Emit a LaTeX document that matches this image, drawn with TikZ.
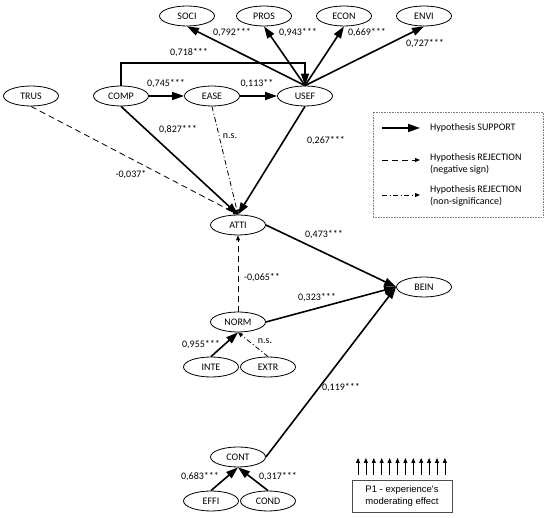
\documentclass[tikz,border=0pt]{standalone}
\usepackage{fontspec}
\setmainfont{Carlito}
\newfontfamily\arialf{Liberation Sans}
\usetikzlibrary{arrows.meta,shapes.geometric,calc}
\begin{document}
\begin{tikzpicture}[x=1pt,y=-1pt,
  font=\fontsize{10}{12}\selectfont,
  var/.style={ellipse,draw,line width=0.8pt,minimum width=55pt,minimum height=20pt,inner sep=0pt},
  lab/.style={inner sep=1pt},
  sup/.style={line width=1.6pt,-{Triangle[length=12pt,width=8pt]}},
  neg/.style={line width=0.8pt,dash pattern=on 6pt off 4pt,-{Triangle[length=5pt,width=4pt]}},
  nsig/.style={line width=0.8pt,dash pattern=on 5pt off 2.5pt on 1pt off 2.5pt,-{Triangle[length=5pt,width=4pt]}},
  small/.style={line width=0.8pt,-{Triangle[length=5pt,width=4pt]}},
]
\useasboundingbox (0,0) rectangle (550,518);
% nodes
\node[var] (SOCI) at (187,16) {SOCI};
\node[var] (PROS) at (264,16) {PROS};
\node[var] (ECON) at (344,16) {ECON};
\node[var] (ENVI) at (424,16) {ENVI};
\node[var] (TRUS) at (31,96) {TRUS};
\node[var] (COMP) at (121,96) {COMP};
\node[var] (EASE) at (212,96) {EASE};
\node[var] (USEF) at (305,96) {USEF};
\node[var] (ATTI) at (238,225) {ATTI};
\node[var] (BEIN) at (424,287) {BEIN};
\node[var] (NORM) at (238,322) {NORM};
\node[var] (INTE) at (211,367) {INTE};
\node[var] (EXTR) at (268,367) {EXTR};
\node[var] (CONT) at (238,457) {CONT};
\node[var] (EFFI) at (211,501) {EFFI};
\node[var] (COND) at (268,501) {COND};
% connectors
\coordinate (elb) at (305,63);
\draw[sup] (COMP.north) |- (elb) -- (USEF.north);
\draw[sup] (COMP) -- (EASE);
\draw[sup] (EASE) -- (USEF);
\draw[sup] (USEF.north) -- (SOCI.south);
\draw[sup] (USEF.north) -- (PROS.south);
\draw[sup] (USEF.north) -- (ECON.south);
\draw[sup] (USEF.north) -- (ENVI.south);
\draw[neg] (TRUS.south) -- (ATTI.north);
\draw[sup] (COMP.south) -- (ATTI.north);
\draw[nsig] (EASE.south) -- (ATTI.north);
\draw[sup] (USEF.south) -- (ATTI.north);
\draw[sup] (ATTI.east) -- (BEIN.west);
\draw[neg] (NORM.north) -- (ATTI.south);
\draw[sup] (NORM.east) -- (BEIN.west);
\draw[sup] (INTE.north) -- (NORM.south);
\draw[nsig] (EXTR.north) -- (NORM.south);
\draw[sup] (CONT.east) -- (BEIN.west);
\draw[sup] (EFFI.north) -- (CONT.south);
\draw[sup] (COND.north) -- (CONT.south);
% labels
\node[lab] (l1) at (232,33) {0,792***};
\node[lab] (l2) at (298,33) {0,943***};
\node[lab] (l3) at (367,33) {0,669***};
\node[lab] (l4) at (425,44) {0,727***};
\node[lab] (l5) at (189,53) {0,718***};
\node[lab] (l6) at (166,84) {0,745***};
\node[lab] (l7) at (257,84) {0,113**};
\node[lab] (l8) at (178,130) {0,827***};
\node[lab] (l9) at (230,136) {n.s.};
\node[lab] (l10) at (131,175) {-0,037*};
\node[lab] (l11) at (326,141) {0,267***};
\node[lab] (l12) at (324,235) {0,473***};
\node[lab] (l13) at (262,278) {-0,065**};
\node[lab] (l14) at (317,298) {0,323***};
\node[lab] (l15) at (201,345) {0,955***};
\node[lab] (l16) at (265,341) {n.s.};
\node[lab] (l17) at (341,388) {0,119***};
\node[lab] (l18) at (200,477) {0,683***};
\node[lab] (l19) at (278,477) {0,317***};
% legend
\node[draw=gray,densely dotted,line width=0.6pt,minimum width=170pt,minimum height=105pt,inner sep=0pt] (leg) at (458,164.5) {};
\coordinate (la1) at (382,128); \coordinate (lb1) at (420,128);
\coordinate (la2) at (382,160); \coordinate (lb2) at (420,160);
\coordinate (la3) at (382,195); \coordinate (lb3) at (420,195);
\draw[sup] (la1) -- (lb1);
\draw[neg] (la2) -- (lb2);
\draw[nsig] (la3) -- (lb3);
\node[anchor=west,inner sep=0pt] (t1) at (430,128) {Hypothesis SUPPORT};
\node[anchor=west,inner sep=0pt,align=left] (t2) at (430,163.5) {Hypothesis REJECTION\\(negative sign)};
\node[anchor=west,inner sep=0pt,align=left] (t3) at (430,196) {Hypothesis REJECTION\\(non-significance)};
% P1 box
\node[draw=gray!60!black,line width=0.8pt,minimum width=100pt,minimum height=32pt,align=center,
  font=\arialf\fontsize{9.5}{11.5}\selectfont] (p1) at (402,496) {P1 - experience's\\moderating effect};
\foreach \i in {0,...,11}{
  \coordinate (pa\i) at (358+\i*7.9,475);
  \coordinate (pb\i) at (358+\i*7.9,458);
  \draw[small] (pa\i) -- (pb\i);
}
\end{tikzpicture}
\end{document}
